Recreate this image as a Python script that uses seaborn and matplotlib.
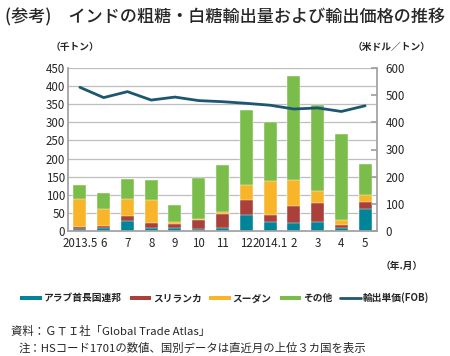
import numpy as np
import pandas as pd
import matplotlib
matplotlib.use("Agg")
import matplotlib.pyplot as plt
import seaborn as sns
from matplotlib.patches import Patch
from matplotlib.lines import Line2D

months = ["2013.5", "6", "7", "8", "9", "10", "11", "12", "2014.1", "2", "3", "4", "5"]
uae = [5, 8, 28, 9, 9, 6, 9, 44, 24, 22, 26, 9, 61]
srilanka = [5, 7, 14, 13, 11, 25, 39, 42, 19, 48, 52, 8, 20]
sudan = [77, 46, 46, 63, 5, 2, 4, 41, 94, 72, 32, 13, 18]
others = [41, 43, 56, 56, 47, 114, 130, 208, 164, 286, 237, 239, 87]
price = [529, 491, 513, 482, 493, 480, 476, 470, 463, 449, 453, 440, 461]

series_names = ["アラブ首長国連邦", "スリランカ", "スーダン", "その他"]
colors = ["#00849A", "#A9403A", "#F9B52A", "#7ABD4A"]
line_color = "#1C5772"

sns.set_theme(style="white")
plt.rcParams['font.family'] = ['Noto Sans CJK JP', 'DejaVu Sans']

fig = plt.figure(figsize=(4.5, 3.56), dpi=100)
ax = fig.add_axes([68/450, 1-231/356, (377-68)/450, (231-68)/356])

data = np.array([uae, srilanka, sudan, others], dtype=float)
cum = np.cumsum(data, axis=0)
df = pd.DataFrame({"month": months})
for i in range(3, -1, -1):
    df["v"] = cum[i]
    sns.barplot(data=df, x="month", y="v", color=colors[i], ax=ax,
                width=0.55, saturation=1, order=months,
                edgecolor="white", linewidth=0.3)

ax.set_ylim(0, 450)
ax.set_yticks(range(0, 451, 50))
ax.set_xlim(-0.5, len(months) - 0.5)
ax.set_xlabel("")
ax.set_ylabel("")
ax.yaxis.grid(True, color="#BEBEBE", linewidth=0.9)
ax.set_axisbelow(True)
for s in ["top", "right"]:
    ax.spines[s].set_visible(False)
ax.spines["left"].set_color("#A0A0A0")
ax.spines["bottom"].set_color("#A0A0A0")
ax.tick_params(axis="y", labelsize=8.3, pad=2, length=0)
ax.tick_params(axis="x", labelsize=8.3, pad=4, length=0)
ax.set_xticks(np.arange(len(months)))
ax.set_xticklabels(months)
ax.set_xticks(np.arange(len(months) + 1) - 0.5, minor=True)
ax.tick_params(axis="x", which="minor", length=4, color="#A0A0A0", direction="out")

ax2 = ax.twinx()
sns.lineplot(x=np.arange(len(months)), y=price, ax=ax2, color=line_color, linewidth=2)
ax2.set_ylim(0, 600)
ax2.set_yticks(range(0, 601, 100))
ax2.tick_params(axis="y", labelsize=8.3, pad=6, length=4, color="#A0A0A0", direction="in")
for s in ["top", "left", "bottom"]:
    ax2.spines[s].set_visible(False)
ax2.spines["right"].set_color("#A0A0A0")
ax2.grid(False)

fig.text(5/450, 1-17/356, "(参考)　インドの粗糖・白糖輸出量および輸出価格の推移",
         fontsize=12.3, va="center", ha="left", weight="medium")
fig.text(75/450, 1-47/356, "（千トン）", fontsize=7, va="center", ha="center", weight="bold")
fig.text(392/450, 1-47/356, "（米ドル／トン）", fontsize=7, va="center", ha="center", weight="bold")
fig.text(402/450, 1-266/356, "（年.月）", fontsize=7, va="center", ha="center", weight="bold")

handles = [Patch(facecolor=c, edgecolor="none") for c in colors]
handles.append(Line2D([0], [0], color=line_color, linewidth=2))
labels = series_names + ["輸出単価(FOB)"]
leg = fig.legend(handles, labels, loc="center", bbox_to_anchor=(0.5, 1-298/356), ncol=5,
                 fontsize=7, frameon=False, handlelength=2.2, handleheight=0.35,
                 handletextpad=0.2, columnspacing=0.8)
for t in leg.get_texts():
    t.set_weight("bold")

fig.text(11/450, 1-331/356, "資料：ＧＴＩ社「Global Trade Atlas」", fontsize=8.2, va="center", ha="left")
fig.text(19/450, 1-348/356, "注：HSコード1701の数値、国別データは直近月の上位３カ国を表示", fontsize=8.2, va="center", ha="left")

fig.savefig("out.png", dpi=100)
